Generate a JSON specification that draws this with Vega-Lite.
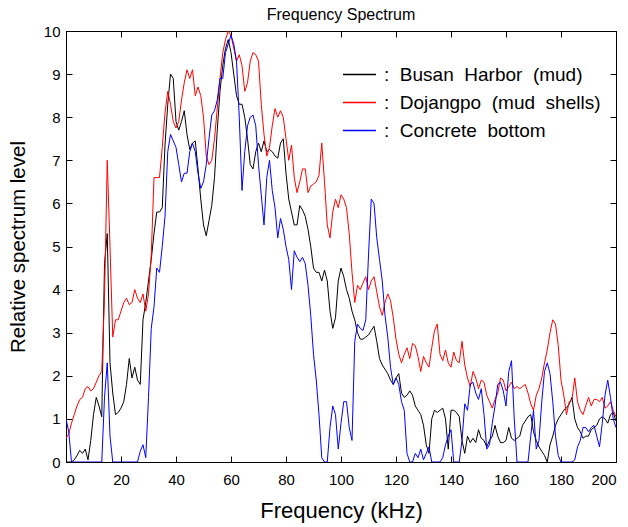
{
"$schema":"https://vega.github.io/schema/vega-lite/v6.json",
"width":550,"height":431,
"autosize":{"type":"none"},
"padding":{"left":66,"top":31,"right":12,"bottom":65},
"background":"white",
"title":{"text":"Frequency Spectrum","fontSize":16,"font":"Liberation Sans","fontWeight":"normal","offset":1,"color":"black"},
"config":{"view":{"stroke":"black","strokeWidth":1},"font":"Liberation Sans",
 "axis":{"domainColor":"black","tickColor":"black","tickSize":-6,"labelColor":"black","labelFont":"Liberation Sans","labelFontSize":15,"titleFont":"Liberation Sans","titleFontSize":22,"titleFontWeight":"normal","titleColor":"black","grid":false}},
"data":{"values":[
{"f":0,"Busan Harbor (mud)":0,"Dojangpo (mud shells)":0.55,"Concrete bottom":1.0},
{"f":1,"Busan Harbor (mud)":0,"Dojangpo (mud shells)":0.65,"Concrete bottom":0.7},
{"f":2,"Busan Harbor (mud)":0,"Dojangpo (mud shells)":0.9,"Concrete bottom":0},
{"f":3,"Busan Harbor (mud)":0.05,"Dojangpo (mud shells)":1.1,"Concrete bottom":0},
{"f":4,"Busan Harbor (mud)":0.15,"Dojangpo (mud shells)":1.3,"Concrete bottom":0},
{"f":5,"Busan Harbor (mud)":0.27,"Dojangpo (mud shells)":1.45,"Concrete bottom":0},
{"f":6,"Busan Harbor (mud)":0.2,"Dojangpo (mud shells)":1.5,"Concrete bottom":0},
{"f":7,"Busan Harbor (mud)":0.3,"Dojangpo (mud shells)":1.7,"Concrete bottom":0},
{"f":8,"Busan Harbor (mud)":0.05,"Dojangpo (mud shells)":1.75,"Concrete bottom":0},
{"f":9,"Busan Harbor (mud)":0.5,"Dojangpo (mud shells)":1.65,"Concrete bottom":0},
{"f":10,"Busan Harbor (mud)":1.1,"Dojangpo (mud shells)":1.7,"Concrete bottom":0},
{"f":11,"Busan Harbor (mud)":1.5,"Dojangpo (mud shells)":1.85,"Concrete bottom":0},
{"f":12,"Busan Harbor (mud)":1.3,"Dojangpo (mud shells)":2.0,"Concrete bottom":0},
{"f":13,"Busan Harbor (mud)":1.05,"Dojangpo (mud shells)":2.1,"Concrete bottom":0},
{"f":14,"Busan Harbor (mud)":4.6,"Dojangpo (mud shells)":3.8,"Concrete bottom":1.5},
{"f":15,"Busan Harbor (mud)":5.3,"Dojangpo (mud shells)":7.0,"Concrete bottom":2.3},
{"f":16,"Busan Harbor (mud)":2.3,"Dojangpo (mud shells)":5.0,"Concrete bottom":0.6},
{"f":17,"Busan Harbor (mud)":1.6,"Dojangpo (mud shells)":2.9,"Concrete bottom":0},
{"f":18,"Busan Harbor (mud)":1.1,"Dojangpo (mud shells)":3.3,"Concrete bottom":0},
{"f":19,"Busan Harbor (mud)":1.15,"Dojangpo (mud shells)":3.3,"Concrete bottom":0},
{"f":20,"Busan Harbor (mud)":1.25,"Dojangpo (mud shells)":3.5,"Concrete bottom":0},
{"f":21,"Busan Harbor (mud)":1.4,"Dojangpo (mud shells)":3.7,"Concrete bottom":0},
{"f":22,"Busan Harbor (mud)":1.8,"Dojangpo (mud shells)":3.8,"Concrete bottom":0},
{"f":23,"Busan Harbor (mud)":2.4,"Dojangpo (mud shells)":3.65,"Concrete bottom":0},
{"f":24,"Busan Harbor (mud)":1.95,"Dojangpo (mud shells)":3.7,"Concrete bottom":0},
{"f":25,"Busan Harbor (mud)":2.2,"Dojangpo (mud shells)":4.0,"Concrete bottom":0},
{"f":26,"Busan Harbor (mud)":1.9,"Dojangpo (mud shells)":3.8,"Concrete bottom":0},
{"f":27,"Busan Harbor (mud)":1.8,"Dojangpo (mud shells)":3.7,"Concrete bottom":0.25},
{"f":28,"Busan Harbor (mud)":3.3,"Dojangpo (mud shells)":3.9,"Concrete bottom":0.4},
{"f":29,"Busan Harbor (mud)":3.7,"Dojangpo (mud shells)":3.5,"Concrete bottom":0.1},
{"f":30,"Busan Harbor (mud)":4.2,"Dojangpo (mud shells)":3.9,"Concrete bottom":1.5},
{"f":31,"Busan Harbor (mud)":4.7,"Dojangpo (mud shells)":4.8,"Concrete bottom":3.1},
{"f":32,"Busan Harbor (mud)":5.3,"Dojangpo (mud shells)":6.6,"Concrete bottom":3.6},
{"f":33,"Busan Harbor (mud)":5.8,"Dojangpo (mud shells)":6.6,"Concrete bottom":4.5},
{"f":34,"Busan Harbor (mud)":5.8,"Dojangpo (mud shells)":6.6,"Concrete bottom":4.4},
{"f":35,"Busan Harbor (mud)":5.9,"Dojangpo (mud shells)":7.3,"Concrete bottom":5.0},
{"f":36,"Busan Harbor (mud)":7.35,"Dojangpo (mud shells)":8.1,"Concrete bottom":5.7},
{"f":37,"Busan Harbor (mud)":8.3,"Dojangpo (mud shells)":8.6,"Concrete bottom":7.2},
{"f":38,"Busan Harbor (mud)":9.0,"Dojangpo (mud shells)":8.3,"Concrete bottom":7.6},
{"f":39,"Busan Harbor (mud)":8.9,"Dojangpo (mud shells)":7.9,"Concrete bottom":7.45},
{"f":40,"Busan Harbor (mud)":7.9,"Dojangpo (mud shells)":7.75,"Concrete bottom":7.3},
{"f":41,"Busan Harbor (mud)":7.7,"Dojangpo (mud shells)":7.9,"Concrete bottom":6.9},
{"f":42,"Busan Harbor (mud)":7.9,"Dojangpo (mud shells)":8.4,"Concrete bottom":6.5},
{"f":43,"Busan Harbor (mud)":8.15,"Dojangpo (mud shells)":8.8,"Concrete bottom":6.7},
{"f":44,"Busan Harbor (mud)":7.6,"Dojangpo (mud shells)":9.1,"Concrete bottom":6.7},
{"f":45,"Busan Harbor (mud)":7.25,"Dojangpo (mud shells)":8.9,"Concrete bottom":7.2},
{"f":46,"Busan Harbor (mud)":7.4,"Dojangpo (mud shells)":9.1,"Concrete bottom":7.4},
{"f":47,"Busan Harbor (mud)":7.45,"Dojangpo (mud shells)":8.5,"Concrete bottom":7.2},
{"f":48,"Busan Harbor (mud)":6.8,"Dojangpo (mud shells)":8.7,"Concrete bottom":6.7},
{"f":49,"Busan Harbor (mud)":6.1,"Dojangpo (mud shells)":8.5,"Concrete bottom":6.35},
{"f":50,"Busan Harbor (mud)":5.5,"Dojangpo (mud shells)":8.0,"Concrete bottom":6.5},
{"f":51,"Busan Harbor (mud)":5.25,"Dojangpo (mud shells)":7.1,"Concrete bottom":6.9},
{"f":52,"Busan Harbor (mud)":5.6,"Dojangpo (mud shells)":6.9,"Concrete bottom":7.5},
{"f":53,"Busan Harbor (mud)":5.95,"Dojangpo (mud shells)":7.0,"Concrete bottom":8.05},
{"f":54,"Busan Harbor (mud)":6.6,"Dojangpo (mud shells)":7.5,"Concrete bottom":8.15},
{"f":55,"Busan Harbor (mud)":7.7,"Dojangpo (mud shells)":8.2,"Concrete bottom":8.4},
{"f":56,"Busan Harbor (mud)":8.6,"Dojangpo (mud shells)":8.9,"Concrete bottom":8.9},
{"f":57,"Busan Harbor (mud)":9.2,"Dojangpo (mud shells)":9.5,"Concrete bottom":8.9},
{"f":58,"Busan Harbor (mud)":9.6,"Dojangpo (mud shells)":9.8,"Concrete bottom":9.5},
{"f":59,"Busan Harbor (mud)":9.8,"Dojangpo (mud shells)":10.0,"Concrete bottom":9.7},
{"f":60,"Busan Harbor (mud)":9.5,"Dojangpo (mud shells)":9.9,"Concrete bottom":9.9},
{"f":61,"Busan Harbor (mud)":9.0,"Dojangpo (mud shells)":9.6,"Concrete bottom":9.7},
{"f":62,"Busan Harbor (mud)":8.5,"Dojangpo (mud shells)":9.3,"Concrete bottom":9.3},
{"f":63,"Busan Harbor (mud)":8.3,"Dojangpo (mud shells)":9.45,"Concrete bottom":8.0},
{"f":64,"Busan Harbor (mud)":8.3,"Dojangpo (mud shells)":9.2,"Concrete bottom":6.3},
{"f":65,"Busan Harbor (mud)":8.0,"Dojangpo (mud shells)":8.6,"Concrete bottom":7.2},
{"f":66,"Busan Harbor (mud)":7.5,"Dojangpo (mud shells)":8.8,"Concrete bottom":7.8},
{"f":67,"Busan Harbor (mud)":6.9,"Dojangpo (mud shells)":9.3,"Concrete bottom":8.0},
{"f":68,"Busan Harbor (mud)":6.8,"Dojangpo (mud shells)":9.5,"Concrete bottom":8.05},
{"f":69,"Busan Harbor (mud)":7.2,"Dojangpo (mud shells)":9.45,"Concrete bottom":7.8},
{"f":70,"Busan Harbor (mud)":7.4,"Dojangpo (mud shells)":9.3,"Concrete bottom":6.9},
{"f":71,"Busan Harbor (mud)":7.2,"Dojangpo (mud shells)":8.3,"Concrete bottom":6.2},
{"f":72,"Busan Harbor (mud)":7.45,"Dojangpo (mud shells)":7.6,"Concrete bottom":5.5},
{"f":73,"Busan Harbor (mud)":7.2,"Dojangpo (mud shells)":7.1,"Concrete bottom":6.6},
{"f":74,"Busan Harbor (mud)":7.25,"Dojangpo (mud shells)":7.3,"Concrete bottom":7.0},
{"f":75,"Busan Harbor (mud)":7.2,"Dojangpo (mud shells)":7.8,"Concrete bottom":6.3},
{"f":76,"Busan Harbor (mud)":7.1,"Dojangpo (mud shells)":8.2,"Concrete bottom":5.9},
{"f":77,"Busan Harbor (mud)":7.05,"Dojangpo (mud shells)":8.0,"Concrete bottom":5.2},
{"f":78,"Busan Harbor (mud)":7.4,"Dojangpo (mud shells)":8.15,"Concrete bottom":5.65},
{"f":79,"Busan Harbor (mud)":7.5,"Dojangpo (mud shells)":8.0,"Concrete bottom":5.4},
{"f":80,"Busan Harbor (mud)":6.7,"Dojangpo (mud shells)":7.5,"Concrete bottom":5.0},
{"f":81,"Busan Harbor (mud)":6.1,"Dojangpo (mud shells)":7.0,"Concrete bottom":4.7},
{"f":82,"Busan Harbor (mud)":5.8,"Dojangpo (mud shells)":7.35,"Concrete bottom":4.0},
{"f":83,"Busan Harbor (mud)":5.5,"Dojangpo (mud shells)":6.6,"Concrete bottom":4.9},
{"f":84,"Busan Harbor (mud)":5.5,"Dojangpo (mud shells)":6.25,"Concrete bottom":4.75},
{"f":85,"Busan Harbor (mud)":5.95,"Dojangpo (mud shells)":6.5,"Concrete bottom":4.65},
{"f":86,"Busan Harbor (mud)":5.85,"Dojangpo (mud shells)":6.8,"Concrete bottom":4.75},
{"f":87,"Busan Harbor (mud)":5.7,"Dojangpo (mud shells)":6.8,"Concrete bottom":4.6},
{"f":88,"Busan Harbor (mud)":5.4,"Dojangpo (mud shells)":6.25,"Concrete bottom":4.1},
{"f":89,"Busan Harbor (mud)":5.0,"Dojangpo (mud shells)":6.4,"Concrete bottom":3.4},
{"f":90,"Busan Harbor (mud)":4.5,"Dojangpo (mud shells)":6.45,"Concrete bottom":2.5},
{"f":91,"Busan Harbor (mud)":4.4,"Dojangpo (mud shells)":6.5,"Concrete bottom":1.9},
{"f":92,"Busan Harbor (mud)":4.4,"Dojangpo (mud shells)":6.65,"Concrete bottom":1.1},
{"f":93,"Busan Harbor (mud)":4.2,"Dojangpo (mud shells)":7.4,"Concrete bottom":0.1},
{"f":94,"Busan Harbor (mud)":4.45,"Dojangpo (mud shells)":6.5,"Concrete bottom":0},
{"f":95,"Busan Harbor (mud)":4.2,"Dojangpo (mud shells)":5.5,"Concrete bottom":0},
{"f":96,"Busan Harbor (mud)":3.5,"Dojangpo (mud shells)":5.2,"Concrete bottom":0.8},
{"f":97,"Busan Harbor (mud)":3.1,"Dojangpo (mud shells)":5.8,"Concrete bottom":1.3},
{"f":98,"Busan Harbor (mud)":3.35,"Dojangpo (mud shells)":6.1,"Concrete bottom":1.1},
{"f":99,"Busan Harbor (mud)":4.2,"Dojangpo (mud shells)":5.9,"Concrete bottom":0.3},
{"f":100,"Busan Harbor (mud)":4.5,"Dojangpo (mud shells)":6.2,"Concrete bottom":0.9},
{"f":101,"Busan Harbor (mud)":4.3,"Dojangpo (mud shells)":6.1,"Concrete bottom":1.4},
{"f":102,"Busan Harbor (mud)":4.0,"Dojangpo (mud shells)":5.9,"Concrete bottom":1.4},
{"f":103,"Busan Harbor (mud)":3.8,"Dojangpo (mud shells)":5.3,"Concrete bottom":0.8},
{"f":104,"Busan Harbor (mud)":3.5,"Dojangpo (mud shells)":4.4,"Concrete bottom":0.5},
{"f":105,"Busan Harbor (mud)":3.3,"Dojangpo (mud shells)":3.7,"Concrete bottom":2.8},
{"f":106,"Busan Harbor (mud)":3.0,"Dojangpo (mud shells)":4.1,"Concrete bottom":3.2},
{"f":107,"Busan Harbor (mud)":2.85,"Dojangpo (mud shells)":4.0,"Concrete bottom":3.1},
{"f":108,"Busan Harbor (mud)":2.85,"Dojangpo (mud shells)":4.15,"Concrete bottom":3.05},
{"f":109,"Busan Harbor (mud)":2.9,"Dojangpo (mud shells)":4.3,"Concrete bottom":3.3},
{"f":110,"Busan Harbor (mud)":2.95,"Dojangpo (mud shells)":4.0,"Concrete bottom":4.8},
{"f":111,"Busan Harbor (mud)":3.05,"Dojangpo (mud shells)":4.2,"Concrete bottom":6.1},
{"f":112,"Busan Harbor (mud)":3.15,"Dojangpo (mud shells)":4.3,"Concrete bottom":6.0},
{"f":113,"Busan Harbor (mud)":2.8,"Dojangpo (mud shells)":3.95,"Concrete bottom":5.2},
{"f":114,"Busan Harbor (mud)":2.4,"Dojangpo (mud shells)":3.6,"Concrete bottom":4.7},
{"f":115,"Busan Harbor (mud)":2.25,"Dojangpo (mud shells)":3.4,"Concrete bottom":4.2},
{"f":116,"Busan Harbor (mud)":2.15,"Dojangpo (mud shells)":3.7,"Concrete bottom":3.4},
{"f":117,"Busan Harbor (mud)":2.05,"Dojangpo (mud shells)":3.9,"Concrete bottom":2.9},
{"f":118,"Busan Harbor (mud)":1.9,"Dojangpo (mud shells)":3.75,"Concrete bottom":2.2},
{"f":119,"Busan Harbor (mud)":1.8,"Dojangpo (mud shells)":3.35,"Concrete bottom":1.8},
{"f":120,"Busan Harbor (mud)":1.95,"Dojangpo (mud shells)":2.85,"Concrete bottom":1.95},
{"f":121,"Busan Harbor (mud)":2.05,"Dojangpo (mud shells)":2.5,"Concrete bottom":1.8},
{"f":122,"Busan Harbor (mud)":1.6,"Dojangpo (mud shells)":2.3,"Concrete bottom":1.4},
{"f":123,"Busan Harbor (mud)":1.5,"Dojangpo (mud shells)":2.5,"Concrete bottom":1.2},
{"f":124,"Busan Harbor (mud)":1.55,"Dojangpo (mud shells)":2.65,"Concrete bottom":0.2},
{"f":125,"Busan Harbor (mud)":1.65,"Dojangpo (mud shells)":2.4,"Concrete bottom":0},
{"f":126,"Busan Harbor (mud)":1.55,"Dojangpo (mud shells)":2.75,"Concrete bottom":0},
{"f":127,"Busan Harbor (mud)":1.3,"Dojangpo (mud shells)":2.7,"Concrete bottom":0.2},
{"f":128,"Busan Harbor (mud)":1.2,"Dojangpo (mud shells)":2.45,"Concrete bottom":0.1},
{"f":129,"Busan Harbor (mud)":1.1,"Dojangpo (mud shells)":2.1,"Concrete bottom":0.3},
{"f":130,"Busan Harbor (mud)":0.85,"Dojangpo (mud shells)":2.45,"Concrete bottom":0.05},
{"f":131,"Busan Harbor (mud)":0.4,"Dojangpo (mud shells)":2.3,"Concrete bottom":0.2},
{"f":132,"Busan Harbor (mud)":0.2,"Dojangpo (mud shells)":2.2,"Concrete bottom":0.35},
{"f":133,"Busan Harbor (mud)":1.0,"Dojangpo (mud shells)":2.65,"Concrete bottom":0},
{"f":134,"Busan Harbor (mud)":1.2,"Dojangpo (mud shells)":3.05,"Concrete bottom":0},
{"f":135,"Busan Harbor (mud)":1.15,"Dojangpo (mud shells)":3.2,"Concrete bottom":0},
{"f":136,"Busan Harbor (mud)":1.2,"Dojangpo (mud shells)":2.5,"Concrete bottom":0},
{"f":137,"Busan Harbor (mud)":1.25,"Dojangpo (mud shells)":2.35,"Concrete bottom":0.1},
{"f":138,"Busan Harbor (mud)":1.0,"Dojangpo (mud shells)":2.6,"Concrete bottom":0.4},
{"f":139,"Busan Harbor (mud)":0.3,"Dojangpo (mud shells)":2.3,"Concrete bottom":0.6},
{"f":140,"Busan Harbor (mud)":1.2,"Dojangpo (mud shells)":2.2,"Concrete bottom":0.75},
{"f":141,"Busan Harbor (mud)":1.2,"Dojangpo (mud shells)":2.55,"Concrete bottom":0},
{"f":142,"Busan Harbor (mud)":1.15,"Dojangpo (mud shells)":2.35,"Concrete bottom":0},
{"f":143,"Busan Harbor (mud)":1.05,"Dojangpo (mud shells)":2.3,"Concrete bottom":0},
{"f":144,"Busan Harbor (mud)":0.5,"Dojangpo (mud shells)":2.8,"Concrete bottom":0.5},
{"f":145,"Busan Harbor (mud)":0.2,"Dojangpo (mud shells)":2.25,"Concrete bottom":1.35},
{"f":146,"Busan Harbor (mud)":0.6,"Dojangpo (mud shells)":1.95,"Concrete bottom":1.2},
{"f":147,"Busan Harbor (mud)":0.45,"Dojangpo (mud shells)":1.75,"Concrete bottom":1.8},
{"f":148,"Busan Harbor (mud)":0.55,"Dojangpo (mud shells)":2.1,"Concrete bottom":1.85},
{"f":149,"Busan Harbor (mud)":0.45,"Dojangpo (mud shells)":1.95,"Concrete bottom":1.6},
{"f":150,"Busan Harbor (mud)":0.75,"Dojangpo (mud shells)":1.7,"Concrete bottom":1.45},
{"f":151,"Busan Harbor (mud)":0.55,"Dojangpo (mud shells)":1.9,"Concrete bottom":1.7},
{"f":152,"Busan Harbor (mud)":0.5,"Dojangpo (mud shells)":1.85,"Concrete bottom":1.1},
{"f":153,"Busan Harbor (mud)":0.35,"Dojangpo (mud shells)":1.55,"Concrete bottom":0.3},
{"f":154,"Busan Harbor (mud)":0.5,"Dojangpo (mud shells)":1.4,"Concrete bottom":0.4},
{"f":155,"Busan Harbor (mud)":0.6,"Dojangpo (mud shells)":1.25,"Concrete bottom":0.9},
{"f":156,"Busan Harbor (mud)":0.85,"Dojangpo (mud shells)":1.45,"Concrete bottom":1.3},
{"f":157,"Busan Harbor (mud)":0.6,"Dojangpo (mud shells)":1.6,"Concrete bottom":1.8},
{"f":158,"Busan Harbor (mud)":0.45,"Dojangpo (mud shells)":1.95,"Concrete bottom":1.85},
{"f":159,"Busan Harbor (mud)":0.45,"Dojangpo (mud shells)":1.9,"Concrete bottom":1.65},
{"f":160,"Busan Harbor (mud)":0.5,"Dojangpo (mud shells)":1.65,"Concrete bottom":1.3},
{"f":161,"Busan Harbor (mud)":0.8,"Dojangpo (mud shells)":1.75,"Concrete bottom":2.1},
{"f":162,"Busan Harbor (mud)":0.55,"Dojangpo (mud shells)":1.85,"Concrete bottom":2.35},
{"f":163,"Busan Harbor (mud)":0.5,"Dojangpo (mud shells)":1.7,"Concrete bottom":1.0},
{"f":164,"Busan Harbor (mud)":0.55,"Dojangpo (mud shells)":1.75,"Concrete bottom":0},
{"f":165,"Busan Harbor (mud)":0.6,"Dojangpo (mud shells)":1.7,"Concrete bottom":0},
{"f":166,"Busan Harbor (mud)":0.85,"Dojangpo (mud shells)":1.75,"Concrete bottom":0},
{"f":167,"Busan Harbor (mud)":0.95,"Dojangpo (mud shells)":1.8,"Concrete bottom":0},
{"f":168,"Busan Harbor (mud)":1.05,"Dojangpo (mud shells)":1.6,"Concrete bottom":0},
{"f":169,"Busan Harbor (mud)":1.1,"Dojangpo (mud shells)":1.35,"Concrete bottom":0.6},
{"f":170,"Busan Harbor (mud)":0.7,"Dojangpo (mud shells)":1.2,"Concrete bottom":1.2},
{"f":171,"Busan Harbor (mud)":0.5,"Dojangpo (mud shells)":1.55,"Concrete bottom":0.3},
{"f":172,"Busan Harbor (mud)":0.35,"Dojangpo (mud shells)":1.7,"Concrete bottom":0.5},
{"f":173,"Busan Harbor (mud)":0.25,"Dojangpo (mud shells)":1.95,"Concrete bottom":1.4},
{"f":174,"Busan Harbor (mud)":0.15,"Dojangpo (mud shells)":2.3,"Concrete bottom":2.1},
{"f":175,"Busan Harbor (mud)":0.0,"Dojangpo (mud shells)":2.6,"Concrete bottom":2.3},
{"f":176,"Busan Harbor (mud)":0.4,"Dojangpo (mud shells)":3.0,"Concrete bottom":2.05},
{"f":177,"Busan Harbor (mud)":0.6,"Dojangpo (mud shells)":3.3,"Concrete bottom":1.4},
{"f":178,"Busan Harbor (mud)":0.85,"Dojangpo (mud shells)":3.2,"Concrete bottom":0.6},
{"f":179,"Busan Harbor (mud)":1.0,"Dojangpo (mud shells)":2.7,"Concrete bottom":0.15},
{"f":180,"Busan Harbor (mud)":1.1,"Dojangpo (mud shells)":1.9,"Concrete bottom":0},
{"f":181,"Busan Harbor (mud)":1.2,"Dojangpo (mud shells)":1.55,"Concrete bottom":0},
{"f":182,"Busan Harbor (mud)":1.25,"Dojangpo (mud shells)":1.1,"Concrete bottom":0},
{"f":183,"Busan Harbor (mud)":1.35,"Dojangpo (mud shells)":1.4,"Concrete bottom":0},
{"f":184,"Busan Harbor (mud)":1.5,"Dojangpo (mud shells)":1.45,"Concrete bottom":0},
{"f":185,"Busan Harbor (mud)":1.0,"Dojangpo (mud shells)":1.95,"Concrete bottom":0.05},
{"f":186,"Busan Harbor (mud)":0.8,"Dojangpo (mud shells)":1.4,"Concrete bottom":0.35},
{"f":187,"Busan Harbor (mud)":0.7,"Dojangpo (mud shells)":1.2,"Concrete bottom":0.5},
{"f":188,"Busan Harbor (mud)":0.55,"Dojangpo (mud shells)":1.1,"Concrete bottom":0.8},
{"f":189,"Busan Harbor (mud)":0.6,"Dojangpo (mud shells)":1.3,"Concrete bottom":0.8},
{"f":190,"Busan Harbor (mud)":0.6,"Dojangpo (mud shells)":1.5,"Concrete bottom":0.7},
{"f":191,"Busan Harbor (mud)":0.75,"Dojangpo (mud shells)":1.3,"Concrete bottom":0.8},
{"f":192,"Busan Harbor (mud)":0.8,"Dojangpo (mud shells)":1.45,"Concrete bottom":0.85},
{"f":193,"Busan Harbor (mud)":0.85,"Dojangpo (mud shells)":1.45,"Concrete bottom":0.6},
{"f":194,"Busan Harbor (mud)":1.0,"Dojangpo (mud shells)":1.4,"Concrete bottom":0.35},
{"f":195,"Busan Harbor (mud)":1.05,"Dojangpo (mud shells)":1.5,"Concrete bottom":0.9},
{"f":196,"Busan Harbor (mud)":1.0,"Dojangpo (mud shells)":1.25,"Concrete bottom":1.55},
{"f":197,"Busan Harbor (mud)":0.9,"Dojangpo (mud shells)":1.3,"Concrete bottom":1.9},
{"f":198,"Busan Harbor (mud)":1.1,"Dojangpo (mud shells)":1.4,"Concrete bottom":1.5},
{"f":199,"Busan Harbor (mud)":1.15,"Dojangpo (mud shells)":1.2,"Concrete bottom":1.0},
{"f":200,"Busan Harbor (mud)":0.95,"Dojangpo (mud shells)":1.05,"Concrete bottom":0.8}
]},
"transform":[{"fold":["Busan Harbor (mud)","Dojangpo (mud shells)","Concrete bottom"],"as":["series","value"]}],
"layer":[
 {"mark":{"type":"line","strokeWidth":1,"clip":true},
  "encoding":{
   "x":{"field":"f","type":"quantitative","scale":{"domain":[0,200],"nice":false,"zero":false},
        "axis":{"values":[0,20,40,60,80,100,120,140,160,180,200],"title":"Frequency (kHz)","labelPadding":16,"titlePadding":13}},
   "y":{"field":"value","type":"quantitative","scale":{"domain":[0,10],"nice":false},
        "axis":{"values":[0,1,2,3,4,5,6,7,8,9,10],"title":"Relative spectrum level","titleFontSize":20.5,"labelPadding":12,"titlePadding":15}},
   "color":{"field":"series","type":"nominal",
     "scale":{"domain":["Busan Harbor (mud)","Dojangpo (mud shells)","Concrete bottom"],"range":["#000000","#ff0000","#0000ff"]},
     "legend":{"orient":"none","legendX":276,"legendY":26,"title":null,"symbolType":"stroke","symbolSize":1089,"symbolStrokeWidth":1.3,
       "labelFont":"Liberation Sans","labelFontSize":19,"labelColor":"black","labelOffset":7,"rowPadding":-7,"padding":0,
       "labelExpr":"':\u00a0 ' + replace(datum.label, / /g, '\u00a0\u00a0')","labelLimit":400}}
  }},
 {"mark":{"type":"line","opacity":0},
  "encoding":{
   "x":{"field":"f","type":"quantitative","axis":{"orient":"top","values":[0,20,40,60,80,100,120,140,160,180,200],"labels":false,"title":null}},
   "y":{"field":"value","type":"quantitative","axis":{"orient":"right","values":[0,1,2,3,4,5,6,7,8,9,10],"labels":false,"title":null}},
   "detail":{"field":"series"}
  }}
],
"resolve":{"axis":{"x":"independent","y":"independent"}}
}
